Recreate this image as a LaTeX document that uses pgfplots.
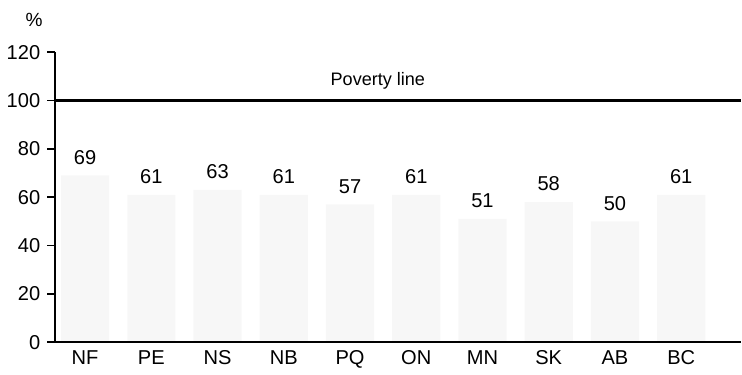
\documentclass[border=0pt]{standalone}
\usepackage{pgfplots}
\pgfplotsset{compat=1.18}
\usepackage{fontspec}
\setmainfont{Liberation Sans}

\begin{document}
\begin{tikzpicture}
\begin{axis}[
  scale only axis, width=341.5pt, height=144.5pt,
  xmin=-0.45, xmax=9.9, ymin=0, ymax=120,
  axis x line=bottom, axis y line=left,
  axis line style={-, line width=1.1pt},
  axis on top,
  ytick={0,20,...,120},
  xtick={0,...,9},
  xticklabels={NF,PE,NS,NB,PQ,ON,MN,SK,AB,BC},
  x tick style={draw=none},
  y tick style={line width=0.9pt, black},
  tick align=outside, major tick length=4pt,
  tick label style={font=\fontsize{10}{11}\selectfont},
  xticklabel style={yshift=3.5pt},
  /pgf/number format/assume math mode=true,
  clip=false,
]
\addplot[ybar, bar width=24pt, fill=black!3, draw=none,
  nodes near coords,
  every node near coord/.append style={font=\fontsize{10}{11}\selectfont, yshift=2pt, black}]
  coordinates {(0,69) (1,61) (2,63) (3,61) (4,57) (5,61) (6,51) (7,58) (8,50) (9,61)};
\addplot[black, line width=1.2pt, forget plot] coordinates {(-0.45,100) (9.9,100)};
\node[font=\fontsize{9}{10}\selectfont, yshift=10pt] at (axis cs:4.42,100) {Poverty line};
\node[font=\fontsize{9.5}{10}\selectfont, xshift=-10.5pt, yshift=16pt] at (rel axis cs:0,1) {\%};
\path (rel axis cs:0,1) ++(0,26pt);
\end{axis}
\end{tikzpicture}
\end{document}
